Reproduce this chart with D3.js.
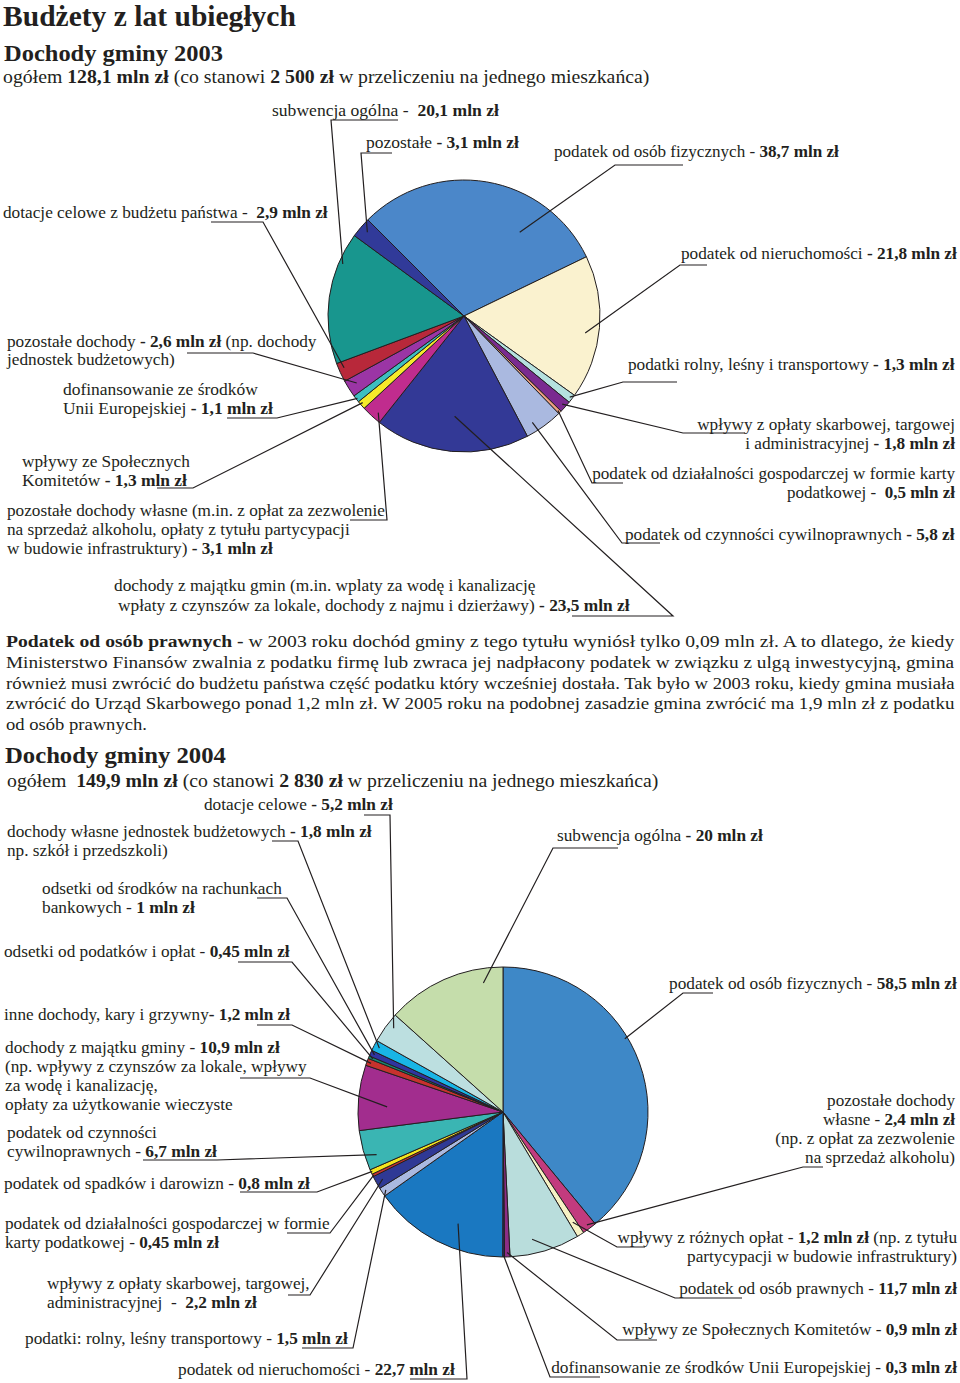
<!DOCTYPE html>
<html><head><meta charset="utf-8">
<script src="https://cdn.jsdelivr.net/npm/d3@7"></script>
<style>
body{margin:0;background:#fff}
svg{display:block}
text{fill:#231f20;white-space:pre}
</style>
</head><body>
<svg id="c" width="960" height="1383"></svg>
<script>
// ---------------- DATA ----------------
const titleMain = "Budżety z lat ubiegłych";
const title2003 = "Dochody gminy 2003";
const sub2003 = [["ogółem ",0],["128,1 mln zł",1],[" (co stanowi ",0],["2 500 zł",1],[" w przeliczeniu na jednego mieszkańca)",0]];
const title2004 = "Dochody gminy 2004";
const sub2004 = [["ogółem  ",0],["149,9 mln zł",1],[" (co stanowi ",0],["2 830 zł",1],[" w przeliczeniu na jednego mieszkańca)",0]];

const cats2003 = ["podatek od osób fizycznych","podatek od nieruchomości","podatki rolny, leśny i transportowy","wpływy z opłaty skarbowej, targowej i administracyjnej","podatek od działalności gospodarczej w formie karty podatkowej","podatek od czynności cywilnoprawnych","dochody z majątku gmin","pozostałe dochody własne","wpływy ze Społecznych Komitetów","dofinansowanie ze środków Unii Europejskiej","pozostałe dochody","dotacje celowe z budżetu państwa","subwencja ogólna","pozostałe"];
const vals2003 = [38.7, 21.8, 1.3, 1.8, 0.5, 5.8, 23.5, 3.1, 1.3, 1.1, 2.6, 2.9, 20.1, 3.1];
const colors2003 = ["#4b87c9","#faf2cf","#b5e1df","#7a2a90","#f0a080","#aab9e0","#333996","#c02c8e","#f5ea2a","#3dbfc0","#9b35a5","#b8283a","#18968e","#313a99"];
const labels2003 = [
 [[["podatek od osób fizycznych - ",0],["38,7 mln zł",1]]],
 [[["podatek od nieruchomości ",0],["- 21,8 mln zł",1]]],
 [[["podatki rolny, leśny i transportowy ",0],["- 1,3 mln zł",1]]],
 [[["wpływy z opłaty skarbowej, targowej",0]],[["i administracyjnej ",0],["- 1,8 mln zł",1]]],
 [[["podatek od działalności gospodarczej w formie karty",0]],[["podatkowej -  ",0],["0,5 mln zł",1]]],
 [[["podatek od czynności cywilnoprawnych ",0],["- 5,8 zł",1]]],
 [[["dochody z majątku gmin (m.in. wplaty za wodę i kanalizację",0]],[["wpłaty z czynszów za lokale, dochody z najmu i dzierżawy) ",0],["- 23,5 mln zł",1]]],
 [[["pozostałe dochody własne (m.in. z opłat za zezwolenie",0]],[["na sprzedaż alkoholu, opłaty z tytułu partycypacji",0]],[["w budowie infrastruktury) ",0],["- 3,1 mln zł",1]]],
 [[["wpływy ze Społecznych",0]],[["Komitetów ",0],["- 1,3 mln zł",1]]],
 [[["dofinansowanie ze środków",0]],[["Unii Europejskiej ",0],["- 1,1 mln zł",1]]],
 [[["pozostałe dochody ",0],["- 2,6 mln zł",1],[" (np. dochody",0]],[["jednostek budżetowych)",0]]],
 [[["dotacje celowe z budżetu państwa -  ",0],["2,9 mln zł",1]]],
 [[["subwencja ogólna -  ",0],["20,1 mln zł",1]]],
 [[["pozostałe ",0],["- 3,1 mln zł",1]]]
];

const cats2004 = ["podatek od osób fizycznych","pozostałe dochody własne","wpływy z różnych opłat","podatek od osób prawnych","wpływy ze Społecznych Komitetów","dofinansowanie ze środków Unii Europejskiej","podatek od nieruchomości","podatki: rolny, leśny, transportowy","wpływy z opłaty skarbowej, targowej, administracyjnej","podatek od działalności gospodarczej w formie karty podatkowej","podatek od spadków i darowizn","podatek od czynności cywilnoprawnych","dochody z majątku gminy","inne dochody, kary i grzywny","odsetki od podatków i opłat","odsetki od środków na rachunkach bankowych","dochody własne jednostek budżetowych","dotacje celowe","subwencja ogólna"];
const vals2004 = [58.5, 2.4, 1.2, 11.7, 0.9, 0.3, 22.7, 1.5, 2.2, 0.45, 0.8, 6.7, 10.9, 1.2, 0.45, 1, 1.8, 5.2, 20];
const colors2004 = ["#3e88c7","#c23b7e","#f7f1c4","#b9dddc","#8c2d86","#2a2a72","#1a78c1","#aab9e0","#2f3995","#c4302f","#f4e41e","#3ab5b3","#a22d8e","#c7322d","#178a6e","#3035a0","#19b5e6","#bcdfe0","#c5ddab"];
const labels2004 = [
 [[["podatek od osób fizycznych - ",0],["58,5 mln zł",1]]],
 [[["pozostałe dochody",0]],[["własne - ",0],["2,4 mln zł",1]],[["(np. z opłat za zezwolenie",0]],[["na sprzedaż alkoholu)",0]]],
 [[["wpływy z różnych opłat - ",0],["1,2 mln zł",1],[" (np. z tytułu",0]],[["partycypacji w budowie infrastruktury)",0]]],
 [[["podatek od osób prawnych - ",0],["11,7 mln zł",1]]],
 [[["wpływy ze Społecznych Komitetów - ",0],["0,9 mln zł",1]]],
 [[["dofinansowanie ze środków Unii Europejskiej - ",0],["0,3 mln zł",1]]],
 [[["podatek od nieruchomości - ",0],["22,7 mln zł",1]]],
 [[["podatki: rolny, leśny transportowy - ",0],["1,5 mln zł",1]]],
 [[["wpływy z opłaty skarbowej, targowej,",0]],[["administracyjnej  -  ",0],["2,2 mln zł",1]]],
 [[["podatek od działalności gospodarczej w formie",0]],[["karty podatkowej - ",0],["0,45 mln zł",1]]],
 [[["podatek od spadków i darowizn - ",0],["0,8 mln zł",1]]],
 [[["podatek od czynności",0]],[["cywilnoprawnych - ",0],["6,7 mln zł",1]]],
 [[["dochody z majątku gminy - ",0],["10,9 mln zł",1]],[["(np. wpływy z czynszów za lokale, wpływy",0]],[["za wodę i kanalizację,",0]],[["opłaty za użytkowanie wieczyste",0]]],
 [[["inne dochody, kary i grzywny",0],["- 1,2 mln zł",1]]],
 [[["odsetki od podatków i opłat - ",0],["0,45 mln zł",1]]],
 [[["odsetki od środków na rachunkach",0]],[["bankowych - ",0],["1 mln zł",1]]],
 [[["dochody własne jednostek budżetowych ",0],["- 1,8 mln zł",1]],[["np. szkół i przedszkoli)",0]]],
 [[["dotacje celowe ",0],["- 5,2 mln zł",1]]],
 [[["subwencja ogólna ",0],["- 20 mln zł",1]]]
];

const noteLines = [
 [["Podatek od osób prawnych -",1],[" w 2003 roku dochód gminy z tego tytułu wyniósł tylko 0,09 mln zł. A to dlatego, że kiedy",0]],
 [["Ministerstwo Finansów zwalnia z podatku firmę lub zwraca jej nadpłacony podatek w związku z ulgą inwestycyjną, gmina",0]],
 [["również musi zwrócić do budżetu państwa część podatku który wcześniej dostała. Tak było w 2003 roku, kiedy gmina musiała",0]],
 [["zwrócić do Urząd Skarbowego ponad 1,2 mln zł. W 2005 roku na podobnej zasadzie gmina zwrócić ma 1,9 mln zł z podatku",0]],
 [["od osób prawnych.",0]]
];

// ---------------- LAYOUT ----------------
const FONT = "'Liberation Serif', Tinos, 'Times New Roman', Times, serif";
const pie1 = {cx:464, cy:316, r:136, start:-Math.PI/4};
const pie2 = {cx:503, cy:1112, r:145, start:0};

const lay2003 = [
 {x:554,y:157,w:[285],u:[615,683,165],t:.72,rf:.74},
 {x:681,y:259,w:[276],u:[680,707,265],t:.55,rf:.9},
 {x:628,y:370,w:[327],u:[623,677,382],t:.5,rf:.98},
 {x:955,a:"end",y:430,lh:19,w:[258,210],u:[683,745,433],t:.5,rf:.97},
 {x:955,a:"end",y:479,lh:19,w:[363,168],u:[592,623,483],t:.5,rf:.98},
 {x:625,y:540,w:[330],u:[622,660,543],t:.7,rf:.93},
 {x:114,xs:[114,118],y:591,lh:20,w:[422,512],u:[673,572,616],t:.5,rf:.74},
 {x:7,y:516,lh:19,w:[378,343,266],u:[387,350,520],t:.35,rf:.95},
 {x:22,y:467,lh:19,w:[168,165],u:[193,157,488],t:.6,rf:.98},
 {x:63,y:395,lh:19,w:[195,210],u:[277,227,418],t:.45,rf:.99},
 {x:7,y:347,lh:18,w:[310,168],u:[253,187,353],t:.54,rf:.93},
 {x:3,y:218,w:[325],u:[263,211,222],t:.65,rf:.96},
 {x:272,y:116,w:[227],u:[331,398,120],t:.77,rf:.97},
 {x:366,y:148,w:[153],u:[361,392,153],t:.53,rf:.94}
];
const lay2004 = [
 {x:669,y:989,w:[288],u:[683,713,993],t:.42,rf:.98},
 {x:955,a:"end",y:1106,lh:19,w:[128,132,180,150],u:[803,823,1167],t:.5,rf:.97},
 {x:957,a:"end",y:1243,lh:19,w:[340,270],u:[617,645,1247],t:.5,rf:.9},
 {x:957,a:"end",y:1294,w:[278],u:[675,742,1298],t:.64,rf:.9},
 {x:957,a:"end",y:1335,w:[335],u:[617,657,1340],t:.5,rf:.97},
 {x:957,a:"end",y:1373,w:[406],u:[550,600,1377],t:.5,rf:.99},
 {x:178,y:1375,w:[277],u:[467,410,1379],t:.4,rf:.83},
 {x:25,y:1344,w:[323],u:[353,302,1348],t:.5,rf:.97},
 {x:47,y:1289,lh:19,w:[263,210],u:[310,288,1295],t:.5,rf:.95},
 {x:5,y:1229,lh:19,w:[325,214],u:[330,287,1233],t:.5,rf:.99},
 {x:4,y:1189,w:[306],u:[317,240,1192],t:.5,rf:.99},
 {x:7,y:1138,lh:19,w:[150,210],u:[217,143,1160],t:.3,rf:.92},
 {x:5,y:1053,lh:19,w:[275,302,153,228],u:[310,240,1078],t:.38,rf:.8},
 {x:4,y:1020,w:[286],u:[292,257,1025],t:.5,rf:.97},
 {x:4,y:957,w:[286],u:[292,238,962],t:.5,rf:.97},
 {x:42,y:894,lh:19,w:[240,153],u:[287,257,898],t:.5,rf:.97},
 {x:7,y:837,lh:19,w:[365,161],u:[298,272,841],t:.5,rf:.96},
 {x:204,y:810,w:[189],u:[390,364,815],t:.64,rf:.95},
 {x:557,y:841,w:[206],u:[553,618,848],t:.82,rf:.9}
];

// ---------------- DRAW ----------------
const svg = d3.select("#c");
const INK = "#231f20";

function fitText(g, segs, x, y, w, anchor, size) {
  const t = g.append("text").attr("font-family", FONT).attr("font-size", size)
    .attr("text-anchor", anchor || "start");
  segs.forEach(s => t.append("tspan").attr("font-weight", s[1] ? "bold" : null).text(s[0]));
  const len = t.node().getComputedTextLength();
  const k = w ? w / len : 1;
  t.attr("transform", `translate(${x},${y}) scale(${k},1)`);
  return t;
}

// titles
const gT = svg.append("g");
fitText(gT, [[titleMain,1]], 3, 26, 293, "start", 29);
fitText(gT, [[title2003,1]], 4, 61, 219, "start", 24);
fitText(gT, sub2003, 3, 83, 647, "start", 19);
fitText(gT, [[title2004,1]], 5, 763, 221, "start", 24);
fitText(gT, sub2004, 7, 787, 652, "start", 19);

// note paragraph
const noteY = [647, 668, 689, 709, 730];
const gN = svg.append("g");
noteLines.forEach((ln, i) => {
  fitText(gN, ln, 6, noteY[i], i < 4 ? 949 : 141, "start", 17);
});

function drawPie(P, vals, colors, labels, lay) {
  const pie = d3.pie().sort(null).value(d => d).startAngle(P.start).endAngle(P.start + 2 * Math.PI);
  const arcs = pie(vals);
  const arc = d3.arc().innerRadius(0).outerRadius(P.r);
  const g = svg.append("g").attr("transform", `translate(${P.cx},${P.cy})`);
  g.selectAll("path").data(arcs).join("path")
    .attr("d", arc)
    .attr("fill", (d, i) => colors[i])
    .attr("stroke", INK).attr("stroke-width", 1).attr("stroke-linejoin", "round");

  const gl = svg.append("g");
  const line = d3.line();
  arcs.forEach((a, i) => {
    const L = lay[i];
    const ang = a.startAngle + L.t * (a.endAngle - a.startAngle);
    const px = P.cx + L.rf * P.r * Math.sin(ang);
    const py = P.cy - L.rf * P.r * Math.cos(ang);
    gl.append("path")
      .attr("d", line([[L.u[1], L.u[2]], [L.u[0], L.u[2]], [px, py]]))
      .attr("fill", "none").attr("stroke", INK).attr("stroke-width", 1.2);
    const lh = L.lh || 19;
    labels[i].forEach((segs, j) => {
      const x = L.xs ? L.xs[j] : L.x;
      fitText(gl, segs, x, L.y + j * lh, L.w[j], L.a || "start", 16);
    });
  });
}

drawPie(pie1, vals2003, colors2003, labels2003, lay2003);
drawPie(pie2, vals2004, colors2004, labels2004, lay2004);
</script>
</body></html>
